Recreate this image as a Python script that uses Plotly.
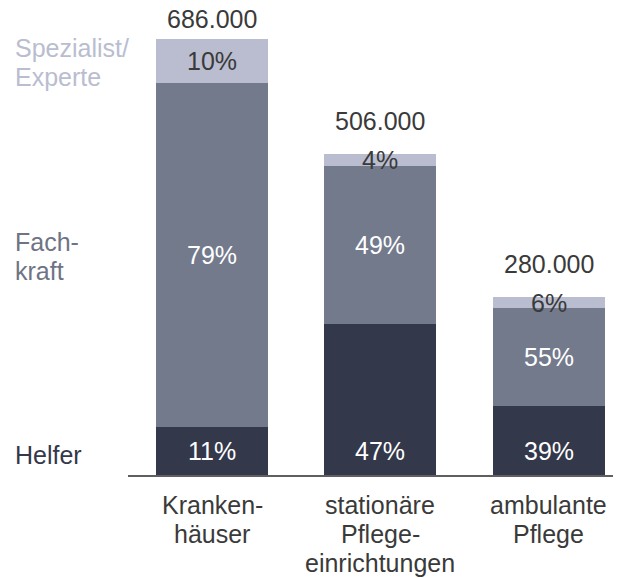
import plotly.graph_objects as go

# ---- data ----
categories = ["Kranken-<br>häuser", "stationäre<br>Pflege-<br>einrichtungen", "ambulante<br>Pflege"]
totals = [686000, 506000, 280000]
total_labels = ["686.000", "506.000", "280.000"]
series_names = ["Helfer", "Fach-<br>kraft", "Spezialist/<br>Experte"]
helfer_pct = [11, 47, 39]
fachkraft_pct = [79, 49, 55]
spezialist_pct = [10, 4, 6]

# ---- style ----
FONT = "Liberation Sans, Arial, Helvetica, sans-serif"
FS = 25
colors = ["#33384b", "#737a8c", "#b9bdcf"]
legend_text_colors = ["#33384b", "#6e7485", "#b9bdcf"]
label_colors = ["#ffffff", "#ffffff", "#3a3a3a"]
TXT = "#3a3a3a"
LINE_GAP = 29
total_shift = [20, 33, 33]

pcts = [helfer_pct, fachkraft_pct, spezialist_pct]
xs = list(range(len(categories)))

fig = go.Figure()
for name, pct, col in zip(series_names, pcts, colors):
    vals = [t * p / 100 for t, p in zip(totals, pct)]
    fig.add_trace(go.Bar(x=xs, y=vals, name=name, marker=dict(color=col, line=dict(width=0)),
                         width=0.665, showlegend=False, hoverinfo="skip"))

annotations = []


def multiline(text, **kw):
    lines = text.split("<br>")
    n = len(lines)
    base = kw.pop("yshift", 0)
    for i, ln in enumerate(lines):
        off = base + ((n - 1) / 2 - i) * LINE_GAP
        annotations.append(dict(text=ln, yshift=off, showarrow=False, **kw))


# percentage labels
helfer_label_y = min(t * p / 100 for t, p in zip(totals, helfer_pct)) / 2
for i, t in enumerate(totals):
    bottom = 0
    for s, pct in enumerate(pcts):
        v = t * pct[i] / 100
        y = helfer_label_y if s == 0 else bottom + v / 2
        annotations.append(dict(x=i, y=y, xref="x", yref="y", text=f"{pct[i]}%",
                                showarrow=False, yanchor="middle",
                                font=dict(family=FONT, size=FS, color=label_colors[s])))
        bottom += v
    annotations.append(dict(x=i, y=t, xref="x", yref="y", text=total_labels[i],
                            showarrow=False, yanchor="middle", yshift=total_shift[i],
                            font=dict(family=FONT, size=FS, color=TXT)))

# series labels on the left aligned with first bar's segments
bottom = 0
legend_shift = [-4, -2, -1]
for s, pct in enumerate(pcts):
    v = totals[0] * pct[0] / 100
    y = helfer_label_y if s == 0 else bottom + v / 2
    multiline(series_names[s], x=0, y=y, xref="paper", yref="y", xanchor="left",
              xshift=-115, yanchor="middle", yshift=legend_shift[s],
              font=dict(family=FONT, size=FS, color=legend_text_colors[s]))
    bottom += v

# category labels
for i, c in enumerate(categories):
    lines = c.split("<br>")
    for j, ln in enumerate(lines):
        annotations.append(dict(x=i, y=0, xref="x", yref="paper", text=ln, showarrow=False,
                                yanchor="middle", yshift=-30 - j * LINE_GAP,
                                font=dict(family=FONT, size=FS, color=TXT)))

fig.update_layout(
    width=613, height=570,
    margin=dict(l=120, r=0, t=0, b=103),
    barmode="stack",
    plot_bgcolor="white", paper_bgcolor="white",
    xaxis=dict(range=[-0.5, 2.43], showticklabels=False, showgrid=False, zeroline=False,
               showline=True, linecolor="#5f5f5f", linewidth=2, ticks=""),
    yaxis=dict(range=[0, 735300], visible=False, showgrid=False, zeroline=False),
    annotations=annotations,
    font=dict(family=FONT, size=FS, color=TXT),
)

fig.write_html("out.html")
